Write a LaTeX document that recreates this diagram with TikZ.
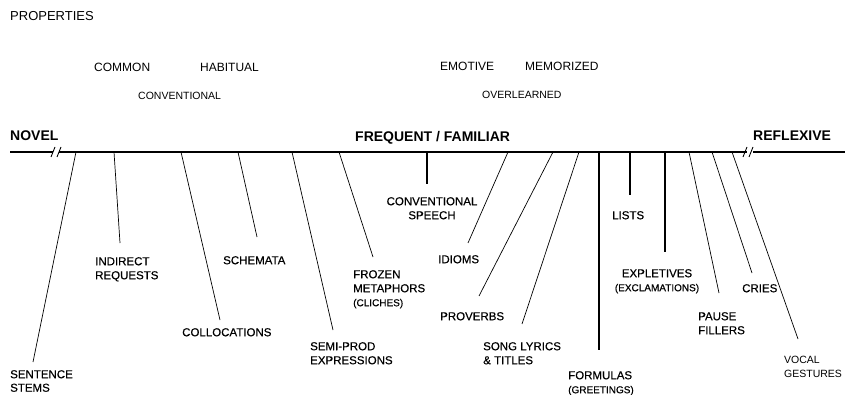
\documentclass[tikz,border=0pt]{standalone}
\usepackage{fontspec}
\setmainfont{Liberation Sans}
\newfontfamily\scanfont[FakeBold=0.4]{Liberation Sans}
\usetikzlibrary{positioning}

\tikzset{
  prop/.style={font=\fontsize{12}{14}\selectfont,inner sep=0pt,anchor=north west},
  propsm/.style={font=\fontsize{10.5}{12}\selectfont,inner sep=0pt,anchor=north west},
  pole/.style={font=\bfseries\fontsize{14}{16}\selectfont,inner sep=0pt,anchor=north west},
  kind/.style={font=\scanfont\fontsize{11.5}{14}\selectfont,inner sep=0pt,anchor=north west,align=left},
  axis/.style={line width=1.7pt},
  lead/.style={line width=0.7pt},
  stick/.style={line width=1.3pt},
}
\newcommand{\smalltag}[1]{{\fontsize{10}{14}\selectfont #1}}

\begin{document}
\begin{tikzpicture}[x=1pt,y=-1pt]
    \useasboundingbox (0,0) rectangle (845,395);

    % properties along the top
    \node[prop,font=\fontsize{13}{15}\selectfont] (properties) at (10,11) {PROPERTIES};
    \node[prop] (common) at (94,63) {COMMON};
    \node[prop] (habitual) at (200,63) {HABITUAL};
    \node[propsm] (conventional) at (138,92) {CONVENTIONAL};
    \node[prop] (emotive) at (440,62) {EMOTIVE};
    \node[prop] (memorized) at (525,62) {MEMORIZED};
    \node[propsm] (overlearned) at (482,91) {OVERLEARNED};

    % the continuum
    \node[pole] (novel) at (10,131) {NOVEL};
    \node[pole] (familiar) at (355,131) {FREQUENT / FAMILIAR};
    \node[pole] (reflexive) at (753,131) {REFLEXIVE};

    \coordinate (left) at (10,152);
    \coordinate (leftbreak) at (53,152);
    \coordinate (start) at (59,152);
    \coordinate (stop) at (747,152);
    \coordinate (rightbreak) at (753,152);
    \coordinate (right) at (845,152);
    \draw[axis,line width=1.4pt] (left) -- (leftbreak);
    \draw[axis] (start) -- (stop);
    \draw[axis,line width=1.4pt] (rightbreak) -- (right);
    \draw[lead,line width=0.9pt] (51,157) -- (55,147) (57,157) -- (61,147);
    \draw[lead,line width=0.9pt] (743,157) -- (747,147) (749,157) -- (753,147);

    % kinds of expression
    \node[kind,font=\scanfont\fontsize{11.5}{13.5}\selectfont] (stems) at (10,370) {SENTENCE\\STEMS};
    \node[kind] (indirect) at (95,257) {INDIRECT\\REQUESTS};
    \node[kind] (collocations) at (182,328) {COLLOCATIONS};
    \node[kind] (schemata) at (223,256) {SCHEMATA};
    \node[kind] (semiprod) at (310,342) {SEMI-PROD\\EXPRESSIONS};
    \node[kind] (frozen) at (353,270) {FROZEN\\METAPHORS\\\smalltag{(CLICHES)}};
    \node[kind,align=center,anchor=north] (speech) at (432,197) {CONVENTIONAL\\SPEECH};
    \node[kind] (idioms) at (438,255) {IDIOMS};
    \node[kind] (proverbs) at (440,312) {PROVERBS};
    \node[kind] (songs) at (483,342) {SONG LYRICS\\\& TITLES};
    \node[kind] (formulas) at (568,371) {FORMULAS\\\smalltag{(GREETINGS)}};
    \node[kind] (lists) at (612,211) {LISTS};
    \node[kind,align=center,anchor=north] (expletives) at (657,269) {EXPLETIVES\\\smalltag{(EXCLAMATIONS)}};
    \node[kind] (pause) at (698,312) {PAUSE\\FILLERS};
    \node[kind] (cries) at (742,284) {CRIES};
    \node[kind,font=\fontsize{10.5}{14}\selectfont] (vocal) at (784,356) {VOCAL\\GESTURES};

    % where each kind sits on the line
    \coordinate (stems-a) at (76,152);      \coordinate (stems-b) at (33,362);
    \coordinate (indirect-a) at (114,152);  \coordinate (indirect-b) at (120,243);
    \coordinate (colloc-a) at (181,152);    \coordinate (colloc-b) at (220,320);
    \coordinate (schemata-a) at (238,152);  \coordinate (schemata-b) at (257,237);
    \coordinate (semiprod-a) at (292,152);  \coordinate (semiprod-b) at (333,330);
    \coordinate (frozen-a) at (339,152);    \coordinate (frozen-b) at (373,257);
    \coordinate (speech-a) at (427,152);    \coordinate (speech-b) at (427,184);
    \coordinate (idioms-a) at (508,152);    \coordinate (idioms-b) at (468,243);
    \coordinate (proverbs-a) at (553,152);  \coordinate (proverbs-b) at (479,296);
    \coordinate (songs-a) at (579,152);     \coordinate (songs-b) at (522,324);
    \coordinate (formulas-a) at (599,152);  \coordinate (formulas-b) at (599,350);
    \coordinate (lists-a) at (630,152);     \coordinate (lists-b) at (630,195);
    \coordinate (expl-a) at (665,152);      \coordinate (expl-b) at (665,252);
    \coordinate (pause-a) at (689,152);     \coordinate (pause-b) at (719,293);
    \coordinate (cries-a) at (712,152);     \coordinate (cries-b) at (752,273);
    \coordinate (vocal-a) at (732,152);     \coordinate (vocal-b) at (798,339);

    \path[lead]
    (stems-a)     edge (stems-b)
    (indirect-a)  edge (indirect-b)
    (colloc-a)    edge (colloc-b)
    (schemata-a)  edge (schemata-b)
    (semiprod-a)  edge (semiprod-b)
    (frozen-a)    edge (frozen-b)
    (idioms-a)    edge (idioms-b)
    (proverbs-a)  edge (proverbs-b)
    (songs-a)     edge (songs-b)
    (pause-a)     edge (pause-b)
    (cries-a)     edge (cries-b)
    (vocal-a)     edge (vocal-b)
    ;
    \path[stick]
    (speech-a)    edge (speech-b)
    (formulas-a)  edge (formulas-b)
    (lists-a)     edge (lists-b)
    (expl-a)      edge (expl-b)
    ;
\end{tikzpicture}
\end{document}
